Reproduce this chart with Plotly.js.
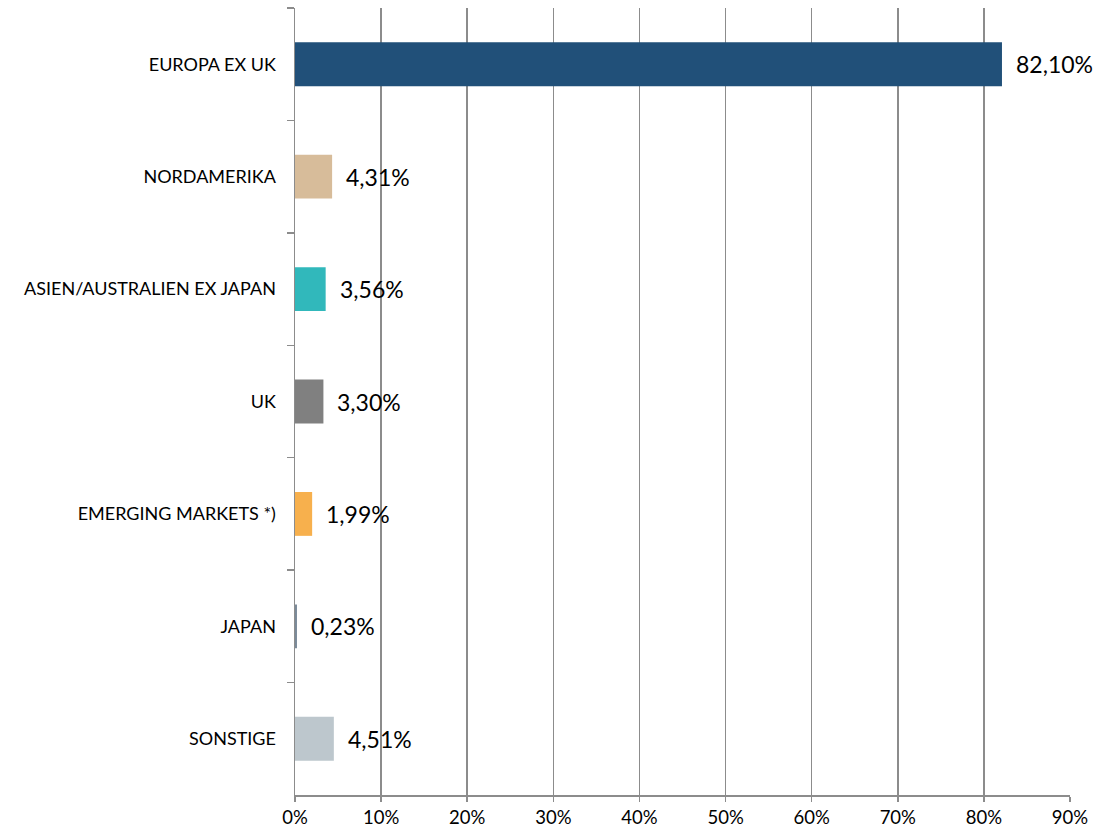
<!DOCTYPE html>
<html>
<head>
<meta charset="utf-8">
<script src="https://cdn.plot.ly/plotly-3.0.1.min.js"></script>
<style>html,body{margin:0;padding:0;background:#fff;}#chart{width:1099px;height:834px;}</style>
</head>
<body>
<div id="chart"></div>
<script>
const categories = ["EUROPA EX UK","NORDAMERIKA","ASIEN/AUSTRALIEN EX JAPAN","UK","EMERGING MARKETS *)","JAPAN","SONSTIGE"];
const values = [82.10, 4.31, 3.56, 3.30, 1.99, 0.23, 4.51];
const labels = ["82,10%","4,31%","3,56%","3,30%","1,99%","0,23%","4,51%"];
const colors = ["#215079","#D7BC9A","#31B8BB","#808080","#F7B04D","#7A8A99","#BDC7CD"];
const xTicks = [0,10,20,30,40,50,60,70,80,90];

const trace = {
  type: "bar",
  orientation: "h",
  y: categories,
  x: values,
  width: 0.39,
  marker: {color: colors},
  hoverinfo: "skip"
};

const annotations = categories.map((c, i) => ({
  x: values[i], y: c, xref: "x", yref: "y",
  text: labels[i], showarrow: false,
  xanchor: "left", yanchor: "middle", xshift: 12, yshift: 0,
  font: {family: "Lato, 'Open Sans', sans-serif", size: 23, color: "#000"}
}));

const layout = {
  width: 1099, height: 834,
  margin: {l: 295, r: 29, t: 8, b: 39},
  paper_bgcolor: "#fff", plot_bgcolor: "#fff",
  showlegend: false,
  bargap: 0.61,
  xaxis: {
    range: [0, 90],
    tickvals: xTicks,
    ticktext: xTicks.map(v => v + "%"),
    showgrid: true, gridcolor: "#8c8c8c", gridwidth: 1.5,
    showline: true, linecolor: "#8c8c8c", linewidth: 1.5,
    ticks: "outside", ticklen: 5, tickcolor: "#8c8c8c", tickwidth: 1.5,
    zeroline: false,
    tickfont: {family: "Lato, 'Open Sans', sans-serif", size: 18.5, color: "#000"},
    fixedrange: true
  },
  yaxis: {
    type: "category",
    autorange: "reversed",
    showgrid: false,
    showline: true, linecolor: "#8c8c8c", linewidth: 1.5,
    ticks: "outside", ticklen: 7, tickcolor: "#8c8c8c", tickwidth: 1.5,
    tickson: "boundaries",
    ticklabelstandoff: 14,
    tickfont: {family: "Lato, 'Open Sans', sans-serif", size: 18, color: "#000"},
    fixedrange: true
  },
  annotations: annotations
};

Plotly.newPlot("chart", [trace], layout, {displayModeBar: false, staticPlot: true});
</script>
</body>
</html>
